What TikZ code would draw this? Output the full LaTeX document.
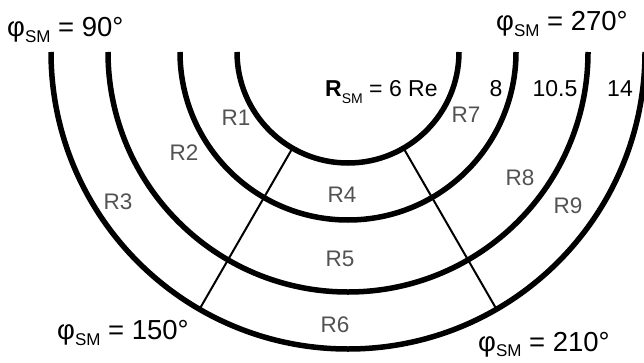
\documentclass[tikz,border=0pt]{standalone}
\usepackage{fontspec}
\setmainfont{Liberation Sans}
\usetikzlibrary{calc}
\newcommand\lsub[2]{\raisebox{-#2}{\fontsize{#1}{#1}\selectfont SM}}
\begin{document}
\begin{tikzpicture}[x=1pt,y=1pt,
  ring/.style={line width=5.5pt},
  spoke/.style={line width=2pt},
  reg/.style={text=black!68, font=\fontsize{22.5}{22.5}\selectfont, inner sep=0pt},
  num/.style={font=\fontsize{23}{23}\selectfont, inner sep=0pt, anchor=base},
  ang/.style={font=\fontsize{27.5}{27.5}\selectfont, inner sep=0pt, anchor=base west}]
\useasboundingbox (0,0) rectangle (644,362);
\coordinate (C) at (348,310);
% rings
\foreach \r in {111,168,240,297}
  \draw[ring] ($(C)+(180:\r)$) arc[start angle=180,end angle=360,radius=\r];
% spokes
\coordinate (a1) at ($(C)+(240:111)$);
\coordinate (a2) at ($(C)+(240:297)$);
\coordinate (b1) at ($(C)+(300:111)$);
\coordinate (b2) at ($(C)+(300:297)$);
\draw[spoke] (a1) -- (a2);
\draw[spoke] (b1) -- (b2);
% angle labels
\node[ang] (p90) at (7,325) {φ\lsub{17}{6pt} = 90°};
\node[ang] (p270) at (496,331) {φ\lsub{17}{6pt} = 270°};
\node[ang] (p150) at (57,23) {φ\lsub{17}{6pt} = 150°};
\node[ang] (p210) at (478,11) {φ\lsub{17}{5pt} = 210°};
% radius labels
\node[num, anchor=base west] (rsm) at (325,265) {\textbf{R}\lsub{14}{7pt} = 6 Re};
\node[num] (n8) at (496,265) {8};
\node[num] (n105) at (555,265) {10.5};
\node[num] (n14) at (620,265) {14};
% regions
\node[reg] (R1) at (236,244) {R1};
\node[reg] (R2) at (184,209) {R2};
\node[reg] (R3) at (118,160) {R3};
\node[reg] (R4) at (342,167) {R4};
\node[reg] (R5) at (340,103) {R5};
\node[reg] (R6) at (335,37) {R6};
\node[reg] (R7) at (466,247) {R7};
\node[reg] (R8) at (520,184) {R8};
\node[reg] (R9) at (568,156) {R9};
\end{tikzpicture}
\end{document}
